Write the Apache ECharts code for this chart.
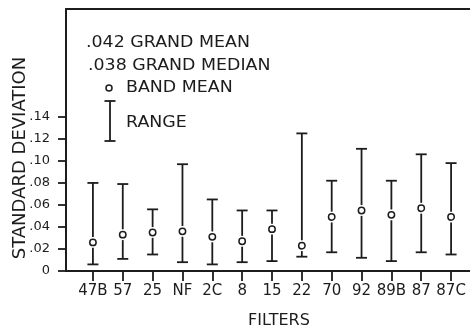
<!DOCTYPE html>
<html>
<head>
<meta charset="utf-8">
<script src="https://cdn.jsdelivr.net/npm/echarts@6/dist/echarts.min.js"></script>
<style>
  html, body { margin: 0; padding: 0; background: #fff; }
  #chart { width: 470px; height: 329px; }
</style>
</head>
<body>
<div id="chart"></div>
<script>
// Filter bands along the horizontal axis
const filters = ['47B', '57', '25', 'NF', '2C', '8', '15', '22', '70', '92', '89B', '87', '87C'];
// Mean standard deviation per band
const bandMean = [0.026, 0.033, 0.035, 0.036, 0.031, 0.027, 0.038, 0.023, 0.049, 0.055, 0.051, 0.057, 0.049];
// Range of standard deviation per band
const rangeLow = [0.006, 0.011, 0.015, 0.008, 0.006, 0.008, 0.009, 0.013, 0.017, 0.012, 0.009, 0.017, 0.015];
const rangeHigh = [0.080, 0.079, 0.056, 0.097, 0.065, 0.055, 0.055, 0.125, 0.082, 0.111, 0.082, 0.106, 0.098];
// Labelled ticks on the vertical axis
const yTicks = [0, 0.02, 0.04, 0.06, 0.08, 0.10, 0.12, 0.14];
// Key text
const grandMean = '.042 GRAND MEAN';
const grandMedian = '.038 GRAND MEDIAN';
const meanKey = 'BAND MEAN';
const rangeKey = 'RANGE';

const INK = '#1c1c1c';
const FONT = 'DejaVu Sans';
const Y_MAX = 0.238;

const chart = echarts.init(document.getElementById('chart'), null, { renderer: 'canvas' });

function fmtTick(v) {
  if (v === 0) return '0';
  return v.toFixed(2).replace(/^0/, '');
}

function renderRange(params, api) {
  const i = api.value(0);
  const x = api.coord([i, 0])[0];
  const yLow = api.coord([i, api.value(1)])[1];
  const yHigh = api.coord([i, api.value(2)])[1];
  const yMean = api.coord([i, api.value(3)])[1];
  const r = 3.2, gap = 2.2, cap = 5.5;
  const line = { stroke: INK, lineWidth: 1.8 };
  const kids = [];
  if (yMean - r - gap > yHigh) {
    kids.push({ type: 'line', shape: { x1: x, y1: yHigh, x2: x, y2: yMean - r - gap }, style: line });
  }
  if (yMean + r + gap < yLow) {
    kids.push({ type: 'line', shape: { x1: x, y1: yMean + r + gap, x2: x, y2: yLow }, style: line });
  }
  kids.push({ type: 'line', shape: { x1: x - cap, y1: yHigh, x2: x + cap, y2: yHigh }, style: line });
  kids.push({ type: 'line', shape: { x1: x - cap, y1: yLow, x2: x + cap, y2: yLow }, style: line });
  kids.push({ type: 'circle', shape: { cx: x, cy: yMean, r: r }, style: { fill: '#fff', stroke: INK, lineWidth: 1.5 } });
  return { type: 'group', children: kids };
}

const keyText = (text, x, y) => ({
  type: 'text', x: x, y: y, scaleX: 1.16,
  style: { text: text, font: '15px "' + FONT + '"', fill: INK, textAlign: 'left', textVerticalAlign: 'middle' }
});

const option = {
  backgroundColor: '#fff',
  animation: false,
  grid: [
    { left: 66, right: 0, top: 9, bottom: 58 },
    { left: 78, right: 4, top: 9, bottom: 58 }
  ],
  xAxis: [
    {
      gridIndex: 0, type: 'value', position: 'bottom', min: 0, max: 1,
      axisLine: { show: true, lineStyle: { color: INK, width: 2 } },
      axisTick: { show: false }, axisLabel: { show: false }, splitLine: { show: false }
    },
    {
      gridIndex: 0, type: 'value', position: 'top', min: 0, max: 1,
      axisLine: { show: true, lineStyle: { color: INK, width: 2 } },
      axisTick: { show: false }, axisLabel: { show: false }, splitLine: { show: false }
    },
    {
      gridIndex: 1, type: 'category', data: filters, position: 'bottom',
      axisLine: { show: false },
      axisTick: { show: true, alignWithLabel: true, length: 10, lineStyle: { color: INK, width: 1.8 } },
      axisLabel: { interval: 0, margin: 13, color: INK, fontFamily: FONT, fontSize: 15 },
      splitLine: { show: false }
    }
  ],
  yAxis: [
    {
      gridIndex: 0, type: 'value', min: 0, max: Y_MAX,
      axisLine: { show: true, lineStyle: { color: INK, width: 2 } },
      axisTick: { show: true, customValues: yTicks, length: 8, lineStyle: { color: INK, width: 1.8 } },
      axisLabel: { customValues: yTicks, formatter: fmtTick, margin: 16, color: INK, fontFamily: FONT, fontSize: 13 },
      splitLine: { show: false }
    },
    {
      gridIndex: 1, type: 'value', min: 0, max: Y_MAX, show: false
    }
  ],
  series: [
    {
      type: 'custom',
      xAxisIndex: 2, yAxisIndex: 1,
      renderItem: renderRange,
      encode: { x: 0, y: [1, 2, 3] },
      clip: false,
      data: filters.map((f, i) => [i, rangeLow[i], rangeHigh[i], bandMean[i]])
    }
  ],
  graphic: [
    keyText(grandMean, 86, 43),
    keyText(grandMedian, 88, 66),
    { type: 'circle', shape: { cx: 109, cy: 88, r: 3 }, style: { fill: '#fff', stroke: INK, lineWidth: 1.5 } },
    keyText(meanKey, 126, 88),
    { type: 'line', shape: { x1: 110, y1: 101, x2: 110, y2: 141 }, style: { stroke: INK, lineWidth: 1.8 } },
    { type: 'line', shape: { x1: 104.5, y1: 101, x2: 115.5, y2: 101 }, style: { stroke: INK, lineWidth: 1.8 } },
    { type: 'line', shape: { x1: 104.5, y1: 141, x2: 115.5, y2: 141 }, style: { stroke: INK, lineWidth: 1.8 } },
    keyText(rangeKey, 126, 123),
    {
      type: 'text', x: 20, y: 158, rotation: Math.PI / 2,
      style: { text: 'STANDARD DEVIATION', font: '18px "' + FONT + '"', fill: INK, textAlign: 'center', textVerticalAlign: 'middle' }
    },
    {
      type: 'text', x: 279, y: 321,
      style: { text: 'FILTERS', font: '16px "' + FONT + '"', fill: INK, textAlign: 'center', textVerticalAlign: 'middle' }
    }
  ]
};

chart.setOption(option);
</script>
</body>
</html>
